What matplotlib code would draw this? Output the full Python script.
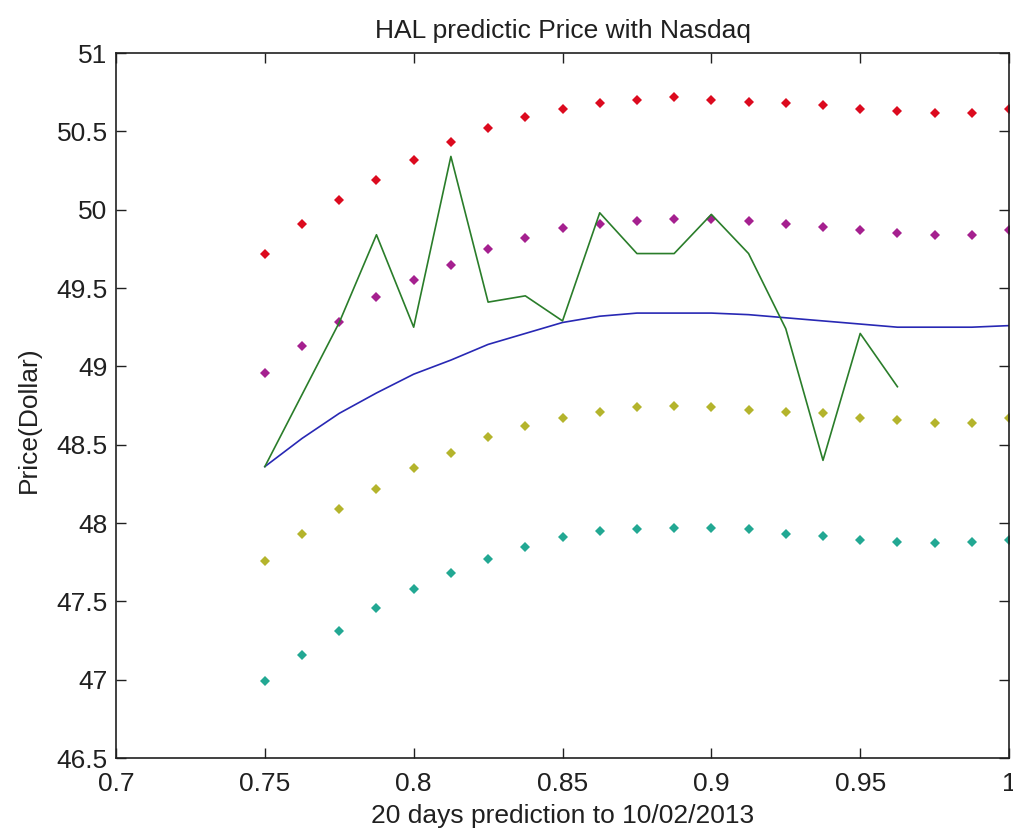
import numpy as np
import matplotlib
matplotlib.use("Agg")
import matplotlib.pyplot as plt

plt.rcParams['font.family'] = ['Liberation Sans', 'DejaVu Sans']

# x positions: 21 prediction steps
x = 0.75 + np.arange(21) * 0.0125

# upper / lower bands (dotted markers)
upper2 = [49.72, 49.91, 50.06, 50.19, 50.32, 50.43, 50.52, 50.59, 50.64, 50.68, 50.70,
          50.72, 50.70, 50.69, 50.68, 50.67, 50.64, 50.63, 50.62, 50.62, 50.64]
upper1 = [48.96, 49.13, 49.28, 49.44, 49.55, 49.65, 49.75, 49.82, 49.88, 49.91, 49.93,
          49.94, 49.94, 49.93, 49.91, 49.89, 49.87, 49.85, 49.84, 49.84, 49.87]
lower1 = [47.76, 47.93, 48.09, 48.22, 48.35, 48.45, 48.55, 48.62, 48.67, 48.71, 48.74,
          48.75, 48.74, 48.72, 48.71, 48.70, 48.67, 48.66, 48.64, 48.64, 48.67]
lower2 = [46.99, 47.16, 47.31, 47.46, 47.58, 47.68, 47.77, 47.85, 47.91, 47.95, 47.96,
          47.97, 47.97, 47.96, 47.93, 47.92, 47.89, 47.88, 47.87, 47.88, 47.89]

# fitted curve
fit = [48.36, 48.54, 48.70, 48.83, 48.95, 49.04, 49.14, 49.21, 49.28, 49.32, 49.34,
       49.34, 49.34, 49.33, 49.31, 49.29, 49.27, 49.25, 49.25, 49.25, 49.26]

# actual price (18 days)
actual = [48.36, 48.82, 49.28, 49.84, 49.25, 50.34, 49.41, 49.45, 49.29, 49.98,
          49.72, 49.72, 49.97, 49.72, 49.24, 48.40, 49.21, 48.87]

fig = plt.figure(figsize=(10.13, 8.35), dpi=100)
ax = fig.add_axes([0.1145, 0.0922, 0.8816, 0.8443])

ms = 5.5
ax.plot(x, upper2, 'D', color='#dc0a1e', ms=ms, mew=0)
ax.plot(x, upper1, 'D', color='#a5208f', ms=ms, mew=0)
ax.plot(x, lower1, 'D', color='#b4b42c', ms=ms, mew=0)
ax.plot(x, lower2, 'D', color='#22a893', ms=ms, mew=0)
ax.plot(x, fit, color='#2828b4', lw=1.2)
ax.plot(x[:len(actual)], actual, color='#2a7d2a', lw=1.2)

ax.set_xlim(0.7, 1.0)
ax.set_ylim(46.5, 51)
ax.set_xticks([0.7, 0.75, 0.8, 0.85, 0.9, 0.95, 1.0])
ax.set_xticklabels(['0.7', '0.75', '0.8', '0.85', '0.9', '0.95', '1'])
ax.set_yticks(np.arange(46.5, 51.01, 0.5))
ax.set_yticklabels(['46.5', '47', '47.5', '48', '48.5', '49', '49.5', '50', '50.5', '51'])
ax.tick_params(direction='in', length=7, width=1, top=True, right=True,
               labelsize=19, colors='#202020')
ax.tick_params(axis='x', pad=10)
ax.tick_params(axis='y', pad=6)
for s in ax.spines.values():
    s.set_linewidth(1.2)
    s.set_color('#202020')

ax.set_title('HAL predictic Price with Nasdaq', fontsize=19, pad=11, color='#202020')
ax.set_xlabel('20 days prediction to 10/02/2013', fontsize=19, labelpad=6, color='#202020')
ax.set_ylabel('Price(Dollar)', fontsize=19, color='#202020')
ax.yaxis.set_label_coords(-0.084, 0.48)

fig.savefig('out.png', dpi=100)
